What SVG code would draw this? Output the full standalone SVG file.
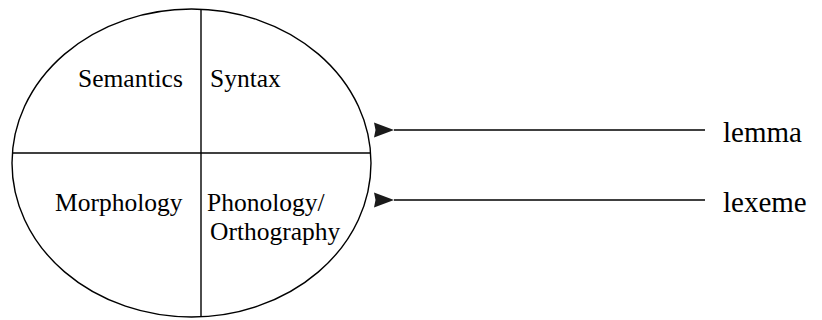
<svg xmlns="http://www.w3.org/2000/svg" width="822" height="320" viewBox="0 0 822 320">
<style>
.shape{fill:none;stroke:#000;stroke-width:1.4}
text{font-family:"Liberation Serif","Times New Roman","DejaVu Serif",serif;fill:#000}
.lbl{font-size:25.5px}
.big{font-size:29px}
.conn{stroke:#000;stroke-width:1.6;fill:none}
</style>
<defs>
<marker id="ah" markerUnits="userSpaceOnUse" markerWidth="22" markerHeight="18" refX="1" refY="9" orient="auto-start-reverse" viewBox="0 0 22 18">
<path d="M1,9 L21,1.5 L19.5,9 L21,16.5 Z" fill="#1a1a1a"/>
</marker>
</defs>
<g id="lexicon">
<ellipse class="shape" cx="191.5" cy="163" rx="179.5" ry="154"/>
<line class="shape" x1="201" y1="9" x2="201" y2="317"/>
<line class="shape" x1="12.4" y1="153" x2="370.6" y2="153"/>
</g>
<g id="semantics"><text class="lbl" x="78" y="87">Semantics</text></g>
<g id="syntax"><text class="lbl" x="210" y="87">Syntax</text></g>
<g id="morphology"><text class="lbl" x="55" y="211">Morphology</text></g>
<g id="phonology"><text class="lbl" x="207" y="211">Phonology/</text><text class="lbl" x="210" y="240">Orthography</text></g>
<g id="lemma"><text class="big" x="723" y="142">lemma</text></g>
<g id="lexeme"><text class="big" x="723" y="212">lexeme</text></g>
<g id="connectors">
<line class="conn" x1="705" y1="130" x2="394" y2="130" marker-end="url(#ah)"/>
<line class="conn" x1="705" y1="200" x2="394" y2="200" marker-end="url(#ah)"/>
</g>
</svg>
